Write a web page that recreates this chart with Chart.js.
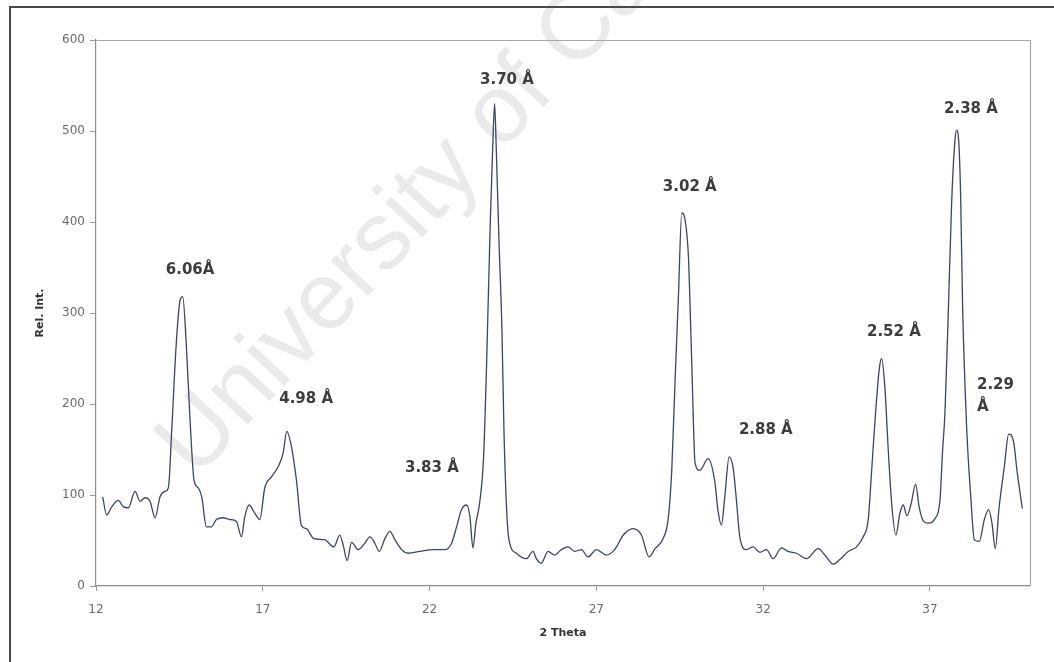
<!DOCTYPE html>
<html>
<head>
<meta charset="utf-8">
<title>XRD pattern</title>
<script src="https://cdn.jsdelivr.net/npm/chart.js@4/dist/chart.umd.min.js"></script>
<style>
  html, body { margin: 0; padding: 0; background: #ffffff; }
  #wrap { width: 1054px; height: 662px; }
</style>
</head>
<body>
<div id="wrap"><canvas id="xrd" width="1054" height="662"></canvas></div>
<script>
// Diffraction angle (degrees 2θ)
const twoTheta = [
  12.2, 12.32, 12.47, 12.67, 12.82, 12.97, 13.17, 13.32, 13.47, 13.62,
  13.77, 13.92, 14.07, 14.17, 14.27, 14.4, 14.52, 14.6, 14.7, 14.82,
  14.94, 15.06, 15.17, 15.31, 15.46, 15.61, 15.81, 16.01, 16.21, 16.36,
  16.46, 16.59, 16.76, 16.91, 17.06, 17.26, 17.46, 17.61, 17.72, 17.86,
  18.01, 18.16, 18.31, 18.53, 18.85, 19.13, 19.31, 19.41, 19.53, 19.66,
  19.86, 20.06, 20.21, 20.36, 20.49, 20.66, 20.81, 20.96, 21.16, 21.36,
  21.71, 22.11, 22.46, 22.66, 22.81, 22.96, 23.11, 23.21, 23.3, 23.39,
  23.5, 23.62, 23.71, 23.82, 23.9, 23.95, 24.0, 24.08, 24.17, 24.23,
  24.31, 24.38, 24.6, 24.9, 25.1, 25.2, 25.35, 25.55, 25.75, 25.95,
  26.15, 26.35, 26.55, 26.75, 27.0, 27.3, 27.55, 27.81, 28.1, 28.35,
  28.58, 28.76, 29.0, 29.15, 29.26, 29.36, 29.46, 29.56, 29.66, 29.76,
  29.86, 29.96, 30.1, 30.35, 30.55, 30.65, 30.75, 30.85, 30.98, 31.1,
  31.2, 31.3, 31.5, 31.7, 31.9, 32.1, 32.3, 32.55, 32.75, 33.0,
  33.3, 33.65, 33.85, 34.1, 34.3, 34.55, 34.8, 35.0, 35.15, 35.25,
  35.35, 35.48, 35.55, 35.65, 35.75, 35.85, 35.98, 36.1, 36.2, 36.31,
  36.44, 36.57, 36.68, 36.81, 36.95, 37.15, 37.3, 37.38, 37.45, 37.55,
  37.65, 37.75, 37.8, 37.85, 37.92, 37.98, 38.1, 38.23, 38.33, 38.48,
  38.63, 38.76, 38.86, 38.96, 39.07, 39.23, 39.36, 39.5, 39.62, 39.77
];

// Relative intensity at each angle
const relIntensity = [
  98, 78, 87, 94, 87, 86, 104, 93, 97, 93,
  75, 98, 104, 108, 171, 263, 314, 318, 270, 182,
  116, 108, 98, 65, 65, 73, 75, 73, 71, 54,
  76, 89, 80, 73, 108, 120, 131, 146, 170, 153,
  116, 66, 63, 52, 51, 43, 56, 45, 28, 48,
  40, 47, 54, 47, 38, 52, 60, 51, 40, 36,
  38, 40, 40, 47, 65, 84, 89, 76, 42, 69,
  91, 142, 245, 400, 490, 530, 480, 380, 281, 171,
  84, 51, 36, 30, 38, 30, 25, 38, 34, 40,
  43, 38, 40, 32, 40, 34, 40, 56, 63, 56,
  32, 41, 52, 73, 127, 226, 318, 410, 402, 362,
  245, 135, 127, 140, 115, 82, 67, 98, 142, 130,
  94, 54, 40, 43, 37, 40, 30, 42, 38, 36,
  30, 41, 34, 24, 29, 38, 43, 54, 73, 125,
  180, 238, 250, 218, 150, 92, 56, 80, 89, 77,
  91, 112, 86, 71, 69, 74, 94, 149, 190, 300,
  420, 490, 501, 495, 430, 307, 175, 95, 51, 49,
  73, 84, 69, 41, 85, 131, 167, 160, 124, 85
];

// Axis tick values
const xTickValues = [12, 17, 22, 27, 32, 37];
const yTickValues = [0, 100, 200, 300, 400, 500, 600];

// d-spacing annotations, anchored in data units (2θ, intensity)
const peakNotes = [
  { lines: ['6.06Å'],        x: 14.82, y: 347, align: 'center' },
  { lines: ['4.98 Å'],       x: 18.3,  y: 205, align: 'center' },
  { lines: ['3.83 Å'],       x: 22.07, y: 130, align: 'center' },
  { lines: ['3.70 Å'],       x: 24.32, y: 556, align: 'center' },
  { lines: ['3.02 Å'],       x: 29.8,  y: 438, align: 'center' },
  { lines: ['2.88 Å'],       x: 32.08, y: 171, align: 'center' },
  { lines: ['2.52 Å'],       x: 35.92, y: 279, align: 'center' },
  { lines: ['2.38 Å'],       x: 38.23, y: 524, align: 'center' },
  { lines: ['2.29', 'Å'],    x: 38.41, y: 221, align: 'left' }
];

const points = twoTheta.map((t, i) => ({ x: t, y: relIntensity[i] }));

// Page frame, plot box and the faint institutional watermark
const framePlugin = {
  id: 'frame',
  beforeDatasetsDraw(chart) {
    const { ctx, chartArea: a } = chart;
    ctx.save();
    // watermark
    ctx.translate(196, 480);
    ctx.rotate(-47 * Math.PI / 180);
    ctx.font = '96px "Liberation Sans", Arial, sans-serif';
    ctx.fillStyle = 'rgba(205,205,205,0.42)';
    ctx.textBaseline = 'alphabetic';
    ctx.textAlign = 'left';
    ctx.fillText('University of Cape Town', 0, 0);
    ctx.restore();

    ctx.save();
    // plot box (top and right edges)
    ctx.strokeStyle = '#a9a9a9';
    ctx.lineWidth = 1.2;
    ctx.beginPath();
    ctx.moveTo(a.left, a.top + 0.5);
    ctx.lineTo(a.right + 0.5, a.top + 0.5);
    ctx.lineTo(a.right + 0.5, a.bottom);
    ctx.stroke();
    // outer page frame
    ctx.strokeStyle = '#4a4a4a';
    ctx.lineWidth = 2;
    ctx.beginPath();
    ctx.moveTo(10, 662);
    ctx.lineTo(10, 7);
    ctx.lineTo(1054, 7);
    ctx.stroke();
    ctx.restore();
  },
  afterDatasetsDraw(chart) {
    const { ctx, scales } = chart;
    ctx.save();
    ctx.font = 'bold 15px "DejaVu Sans", sans-serif';
    ctx.fillStyle = '#3c3c3c';
    ctx.textBaseline = 'middle';
    peakNotes.forEach(n => {
      const px = scales.x.getPixelForValue(n.x);
      const py = scales.y.getPixelForValue(n.y);
      ctx.textAlign = n.align;
      n.lines.forEach((line, k) => ctx.fillText(line, px, py + k * 22));
    });
    ctx.restore();
  }
};

new Chart(document.getElementById('xrd'), {
  type: 'line',
  data: {
    datasets: [{
      data: points,
      borderColor: '#3b4663',
      borderWidth: 1.3,
      pointRadius: 0,
      fill: false,
      cubicInterpolationMode: 'monotone'
    }]
  },
  options: {
    responsive: false,
    devicePixelRatio: 1,
    animation: false,
    events: [],
    layout: { padding: { top: 40, right: 24, bottom: 0, left: 0 } },
    plugins: { legend: { display: false }, tooltip: { enabled: false } },
    scales: {
      x: {
        type: 'linear',
        min: 12,
        max: 40,
        afterBuildTicks(scale) { scale.ticks = xTickValues.map(v => ({ value: v })); },
        afterFit(scale) { scale.height = 76; },
        grid: { drawOnChartArea: false, drawTicks: true, tickLength: 5, color: '#9a9a9a' },
        border: { display: true, color: '#8c8c8c', width: 1.2 },
        ticks: {
          color: '#6a6a6a',
          padding: 12,
          maxRotation: 0,
          font: { family: '"DejaVu Sans", sans-serif', size: 12 }
        },
        title: {
          display: true,
          text: '2 Theta',
          color: '#333333',
          font: { family: '"DejaVu Sans", sans-serif', size: 11, weight: 'bold' },
          padding: { top: 0, bottom: 22 }
        }
      },
      y: {
        min: 0,
        max: 600,
        afterBuildTicks(scale) { scale.ticks = yTickValues.map(v => ({ value: v })); },
        afterFit(scale) { scale.width = 96; },
        grid: { drawOnChartArea: false, drawTicks: true, tickLength: 6, color: '#9a9a9a' },
        border: { display: true, color: '#8c8c8c', width: 1.2 },
        ticks: {
          color: '#6a6a6a',
          padding: 5,
          font: { family: '"DejaVu Sans", sans-serif', size: 12 }
        },
        title: {
          display: true,
          text: 'Rel. Int.',
          color: '#333333',
          font: { family: '"DejaVu Sans", sans-serif', size: 11, weight: 'bold' },
          padding: { top: 34 }
        }
      }
    }
  },
  plugins: [framePlugin]
});
</script>
</body>
</html>
